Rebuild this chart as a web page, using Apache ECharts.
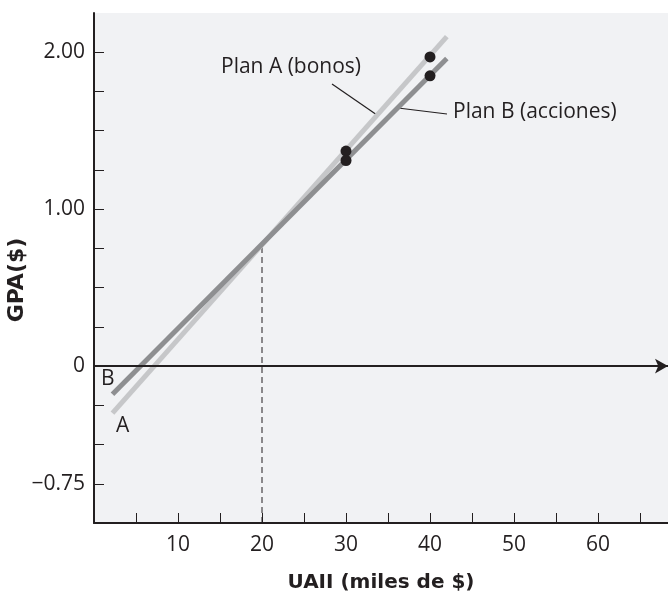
<!DOCTYPE html>
<html>
<head>
<meta charset="utf-8">
<script src="https://cdn.jsdelivr.net/npm/echarts@6/dist/echarts.min.js"></script>
<style>
  html, body { margin: 0; padding: 0; background: #fff; }
  #chart { width: 668px; height: 596px; }
</style>
</head>
<body>
<div id="chart"></div>
<script>
// UAII (miles de $) en los extremos de cada recta
const lineEnds = [2.2, 42];
// GPA en esos extremos
const planA = [-0.30, 2.10];   // Plan A (bonos)
const planB = [-0.18, 1.96];   // Plan B (acciones)
// puntos calculados
const pointX = [30, 40];
const pointsA = [1.37, 1.97];
const pointsB = [1.31, 1.85];
// punto de indiferencia
const crossX = 20;
const crossY = 0.77;
// marcas de los ejes
const xTicks = [5, 10, 15, 20, 25, 30, 35, 40, 45, 50, 55, 60, 65];
const xLabels = [10, 20, 30, 40, 50, 60];
const yTicks = [-0.75, -0.5, -0.25, 0, 0.25, 0.5, 0.75, 1, 1.25, 1.5, 1.75, 2];
const yLabels = [-0.75, 0, 1, 2];

const xMin = 0, xMax = 68.33;
const yMin = -1, yMax = 2.25;

const ink = '#231f20';
const font = 'Open Sans';

function yFmt(v) {
  if (v === 0) return '0';
  if (v < 0) return '\u2212' + Math.abs(v).toFixed(2);
  return v.toFixed(2);
}

const myChart = echarts.init(document.getElementById('chart'));

const options = {
  animation: false,
  grid: {
    left: 94, right: 0, top: 13, bottom: 73,
    outerBoundsMode: 'none',
    containLabel: false,
    show: true,
    backgroundColor: '#f1f2f4',
    borderWidth: 0
  },
  xAxis: {
    type: 'value',
    min: xMin,
    max: xMax,
    name: 'UAII (miles de $)',
    nameLocation: 'middle',
    nameGap: 50,
    nameTextStyle: { fontFamily: 'DejaVu Sans', fontWeight: 'bold', fontSize: 20, color: ink },
    axisLine: { onZero: false, lineStyle: { color: ink, width: 2 } },
    axisTick: { inside: true, length: 10, customValues: xTicks, lineStyle: { color: ink, width: 1 } },
    axisLabel: { customValues: xLabels, margin: 12, fontFamily: font, fontSize: 21, color: ink },
    splitLine: { show: false }
  },
  yAxis: {
    type: 'value',
    min: yMin,
    max: yMax,
    axisLine: { onZero: false, lineStyle: { color: ink, width: 2 } },
    axisTick: { inside: true, length: 10, customValues: yTicks, lineStyle: { color: ink, width: 1 } },
    axisLabel: { customValues: yLabels, margin: 9, fontFamily: font, fontSize: 21, color: ink, formatter: yFmt },
    splitLine: { show: false }
  },
  series: [
    {
      // línea de indiferencia + eje y = 0 con flecha
      type: 'line',
      name: 'indiferencia',
      data: [[crossX, yMin], [crossX, crossY]],
      symbol: 'none',
      lineStyle: { color: ink, width: 1, type: [6, 4] },
      z: 1,
      markLine: {
        silent: true,
        symbol: ['none', 'arrow'],
        symbolSize: [11, 13],
        label: { show: false },
        lineStyle: { color: ink, width: 2, type: 'solid' },
        data: [[{ coord: [xMin, 0] }, { coord: [xMax, 0] }]]
      }
    },
    {
      type: 'line',
      name: 'Plan A (bonos)',
      data: lineEnds.map((x, i) => [x, planA[i]]),
      symbol: 'none',
      lineStyle: { color: '#c6c7c9', width: 5, cap: 'butt' },
      z: 2
    },
    {
      type: 'line',
      name: 'Plan B (acciones)',
      data: lineEnds.map((x, i) => [x, planB[i]]),
      symbol: 'none',
      lineStyle: { color: '#8e8f91', width: 5, cap: 'butt' },
      z: 3
    },
    {
      type: 'scatter',
      name: 'puntos',
      data: pointX.map((x, i) => [x, pointsA[i]]).concat(pointX.map((x, i) => [x, pointsB[i]])),
      symbolSize: 11,
      itemStyle: { color: ink, opacity: 1 },
      z: 5
    }
  ],
  graphic: [
    // título del eje vertical
    {
      type: 'text', x: 17, y: 280, rotation: Math.PI / 2,
      style: { text: 'GPA($)', font: 'bold 22px "DejaVu Sans"', fill: ink, align: 'center', verticalAlign: 'middle' }
    },
    { type: 'text', left: 221, top: 57, style: { text: 'Plan A (bonos)', font: '21px "Open Sans"', fill: ink } },
    { type: 'line', shape: { x1: 332, y1: 84, x2: 377, y2: 115 }, style: { stroke: ink, lineWidth: 1.2 } },
    { type: 'text', left: 453, top: 102, style: { text: 'Plan B (acciones)', font: '21px "Open Sans"', fill: ink } },
    { type: 'line', shape: { x1: 398, y1: 108, x2: 447, y2: 114 }, style: { stroke: ink, lineWidth: 1.2 } },
    { type: 'text', left: 101, top: 369, style: { text: 'B', font: '21px "Open Sans"', fill: ink } },
    { type: 'text', left: 116, top: 416, style: { text: 'A', font: '21px "Open Sans"', fill: ink } }
  ]
};

myChart.setOption(options);
</script>
</body>
</html>
